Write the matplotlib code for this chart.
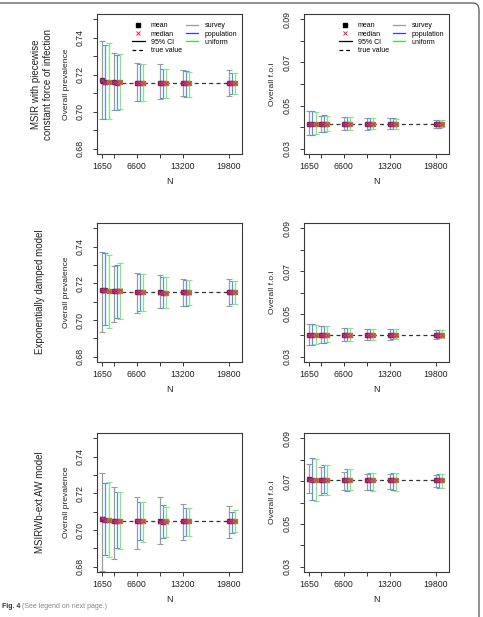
import matplotlib
matplotlib.use('Agg')
import matplotlib.pyplot as plt
from matplotlib.lines import Line2D
from matplotlib.patches import FancyBboxPatch
import numpy as np

plt.rcParams['font.family'] = ['Liberation Sans', 'DejaVu Sans']

# ---------------- data ----------------
N = [1650, 3300, 6600, 9900, 13200, 19800]
N_labels = ['1650', '', '6600', '', '13200', '19800']
series = ['survey', 'population', 'uniform']
row_titles = ['MSIR with piecewise\nconstant force of infection',
              'Exponentially damped model',
              'MSIRWb-ext AW model']
ylabels = ['Overall prevalence', 'Overall f.o.i']

# row 1: MSIR piecewise constant foi -- prevalence
msir_prev_true = 0.7156
msir_prev_lo = [[0.6961, 0.7011, 0.7056, 0.7067, 0.7083, 0.7083],
                [0.6963, 0.7011, 0.7056, 0.7072, 0.7078, 0.7094],
                [0.6961, 0.7017, 0.7056, 0.7072, 0.7078, 0.7094]]
msir_prev_hi = [[0.7383, 0.7317, 0.7261, 0.7256, 0.7228, 0.7228],
                [0.7361, 0.7306, 0.7256, 0.7233, 0.7222, 0.7211],
                [0.7372, 0.7310, 0.7256, 0.7233, 0.7217, 0.7211]]
msir_prev_mean = [[0.7174, 0.7162, 0.7158, 0.7157, 0.7157, 0.7157],
                  [0.7160, 0.7158, 0.7156, 0.7155, 0.7156, 0.7156],
                  [0.7163, 0.7160, 0.7157, 0.7156, 0.7156, 0.7156]]
msir_prev_median = [[0.7170, 0.7160, 0.7157, 0.7156, 0.7156, 0.7156],
                    [0.7158, 0.7157, 0.7155, 0.7155, 0.7155, 0.7156],
                    [0.7161, 0.7159, 0.7156, 0.7155, 0.7156, 0.7156]]
# row 1: foi
msir_foi_true = 0.0416
msir_foi_lo = [[0.0365, 0.0379, 0.0386, 0.0388, 0.0390, 0.0398],
               [0.0365, 0.0380, 0.0387, 0.0390, 0.0391, 0.0398],
               [0.0367, 0.0381, 0.0388, 0.0391, 0.0392, 0.0399]]
msir_foi_hi = [[0.0477, 0.0453, 0.0449, 0.0444, 0.0444, 0.0435],
               [0.0475, 0.0455, 0.0447, 0.0442, 0.0441, 0.0434],
               [0.0470, 0.0452, 0.0446, 0.0441, 0.0440, 0.0433]]
msir_foi_mean = [[0.0417, 0.0417, 0.0416, 0.0416, 0.0416, 0.0416],
                 [0.0416, 0.0416, 0.0416, 0.0416, 0.0416, 0.0416],
                 [0.0416, 0.0416, 0.0416, 0.0416, 0.0416, 0.0416]]
msir_foi_median = [[0.0416, 0.0416, 0.0416, 0.0416, 0.0416, 0.0416],
                   [0.0416, 0.0416, 0.0416, 0.0416, 0.0416, 0.0416],
                   [0.0416, 0.0416, 0.0416, 0.0416, 0.0416, 0.0416]]

# row 2: exponentially damped model
exp_prev_true = 0.7151
exp_prev_lo = [[0.6937, 0.6992, 0.7041, 0.7063, 0.7079, 0.7079],
               [0.6975, 0.7014, 0.7052, 0.7068, 0.7079, 0.7090],
               [0.6959, 0.7008, 0.7052, 0.7068, 0.7081, 0.7090]]
exp_prev_hi = [[0.7370, 0.7293, 0.7255, 0.7244, 0.7222, 0.7222],
               [0.7364, 0.7299, 0.7249, 0.7233, 0.7220, 0.7211],
               [0.7353, 0.7310, 0.7249, 0.7233, 0.7220, 0.7211]]
exp_prev_mean = [[0.7165, 0.7160, 0.7152, 0.7151, 0.7151, 0.7152],
                 [0.7161, 0.7158, 0.7152, 0.7150, 0.7151, 0.7151],
                 [0.7160, 0.7160, 0.7152, 0.7150, 0.7151, 0.7151]]
exp_prev_median = [[0.7162, 0.7158, 0.7151, 0.7150, 0.7151, 0.7151],
                   [0.7160, 0.7157, 0.7151, 0.7150, 0.7150, 0.7151],
                   [0.7159, 0.7161, 0.7151, 0.7150, 0.7150, 0.7151]]
exp_foi_true = 0.0400
exp_foi_lo = [[0.0355, 0.0365, 0.0375, 0.0377, 0.0380, 0.0385],
              [0.0357, 0.0366, 0.0376, 0.0378, 0.0381, 0.0386],
              [0.0358, 0.0367, 0.0376, 0.0379, 0.0381, 0.0386]]
exp_foi_hi = [[0.0455, 0.0445, 0.0435, 0.0432, 0.0430, 0.0425],
              [0.0452, 0.0443, 0.0433, 0.0431, 0.0429, 0.0424],
              [0.0450, 0.0442, 0.0433, 0.0430, 0.0428, 0.0424]]
exp_foi_mean = [[0.0401, 0.0400, 0.0400, 0.0400, 0.0400, 0.0400],
                [0.0400, 0.0400, 0.0400, 0.0400, 0.0400, 0.0400],
                [0.0400, 0.0400, 0.0400, 0.0400, 0.0400, 0.0400]]
exp_foi_median = [[0.0400, 0.0400, 0.0400, 0.0400, 0.0400, 0.0400],
                  [0.0400, 0.0400, 0.0400, 0.0400, 0.0400, 0.0400],
                  [0.0400, 0.0400, 0.0400, 0.0400, 0.0400, 0.0400]]

# row 3: MSIRWb-ext AW model
aw_prev_true = 0.7047
aw_prev_lo = [[0.6778, 0.6844, 0.6899, 0.6926, 0.6948, 0.6959],
              [0.6866, 0.6904, 0.6948, 0.6959, 0.6970, 0.6986],
              [0.6855, 0.6899, 0.6937, 0.6964, 0.6970, 0.6992]]
aw_prev_hi = [[0.7310, 0.7233, 0.7178, 0.7178, 0.7140, 0.7129],
              [0.7255, 0.7205, 0.7151, 0.7134, 0.7118, 0.7101],
              [0.7260, 0.7205, 0.7151, 0.7123, 0.7118, 0.7107]]
aw_prev_mean = [[0.7060, 0.7050, 0.7048, 0.7047, 0.7048, 0.7048],
                [0.7055, 0.7049, 0.7048, 0.7046, 0.7047, 0.7047],
                [0.7054, 0.7050, 0.7049, 0.7047, 0.7047, 0.7047]]
aw_prev_median = [[0.7065, 0.7049, 0.7047, 0.7046, 0.7047, 0.7047],
                  [0.7053, 0.7048, 0.7047, 0.7046, 0.7047, 0.7047],
                  [0.7052, 0.7049, 0.7048, 0.7046, 0.7047, 0.7047]]
aw_foi_true = 0.0705
aw_foi_lo = [[0.0644, 0.0634, 0.0658, 0.0658, 0.0662, 0.0672],
             [0.0611, 0.0644, 0.0653, 0.0658, 0.0658, 0.0667],
             [0.0606, 0.0634, 0.0658, 0.0653, 0.0653, 0.0667]]
aw_foi_hi = [[0.0780, 0.0766, 0.0742, 0.0733, 0.0733, 0.0728],
             [0.0808, 0.0775, 0.0756, 0.0738, 0.0738, 0.0733],
             [0.0803, 0.0775, 0.0756, 0.0738, 0.0738, 0.0733]]
aw_foi_mean = [[0.0708, 0.0707, 0.0706, 0.0706, 0.0706, 0.0706],
               [0.0707, 0.0706, 0.0707, 0.0706, 0.0706, 0.0706],
               [0.0707, 0.0707, 0.0707, 0.0706, 0.0706, 0.0706]]
aw_foi_median = [[0.0707, 0.0706, 0.0705, 0.0706, 0.0706, 0.0706],
                 [0.0706, 0.0706, 0.0706, 0.0705, 0.0706, 0.0706],
                 [0.0706, 0.0706, 0.0706, 0.0706, 0.0706, 0.0706]]

prev_ticks = [0.68, 0.69, 0.70, 0.71, 0.72, 0.73, 0.74, 0.75]
prev_ticklabels = ['0.68', '', '0.70', '', '0.72', '', '0.74', '']
foi_ticks = [0.03, 0.04, 0.05, 0.06, 0.07, 0.08, 0.09]
foi_ticklabels = ['0.03', '', '0.05', '', '0.07', '', '0.09']

# ---------------- style ----------------
series_colors = ['#9b9b9b', '#5a93de', '#86e486']
mean_colors = ['#6a1f5e', '#7a2a78', '#9c8a3a']
series_offset = [0, 480, 960]
W, H = 483, 617
fig = plt.figure(figsize=(W / 100, H / 100), dpi=100)
fig.patch.set_facecolor('white')

def px_axes(x0, y0, x1, y1):
    return fig.add_axes([x0 / W, 1 - y1 / H, (x1 - x0) / W, (y1 - y0) / H])

rows_px = [(14, 154), (223, 362), (433, 572)]
cols_px = [(97, 242), (304, 449)]

panels = [
    [(msir_prev_lo, msir_prev_hi, msir_prev_mean, msir_prev_median, msir_prev_true),
     (msir_foi_lo, msir_foi_hi, msir_foi_mean, msir_foi_median, msir_foi_true)],
    [(exp_prev_lo, exp_prev_hi, exp_prev_mean, exp_prev_median, exp_prev_true),
     (exp_foi_lo, exp_foi_hi, exp_foi_mean, exp_foi_median, exp_foi_true)],
    [(aw_prev_lo, aw_prev_hi, aw_prev_mean, aw_prev_median, aw_prev_true),
     (aw_foi_lo, aw_foi_hi, aw_foi_mean, aw_foi_median, aw_foi_true)],
]

edge = '#3a3a3a'
for r, (ry0, ry1) in enumerate(rows_px):
    for c, (cx0, cx1) in enumerate(cols_px):
        ax = px_axes(cx0, ry0, cx1, ry1)
        lo_all, hi_all, mean_all, med_all, tv = panels[r][c]
        for s in range(3):
            xs = np.array(N, dtype=float) + series_offset[s]
            lo = np.array(lo_all[s]); hi = np.array(hi_all[s])
            ax.errorbar(xs, (lo + hi) / 2, yerr=(hi - lo) / 2, fmt='none',
                        ecolor=series_colors[s], elinewidth=0.9,
                        capsize=2.2, capthick=0.8, zorder=2)
        ax.axhline(tv, xmin=0.02, xmax=0.965, color='#333333', lw=0.9,
                   dashes=(3.2, 2.6), zorder=3)
        for s in range(3):
            xs = np.array(N, dtype=float) + series_offset[s]
            ax.plot(xs, mean_all[s], ls='none', marker='s', ms=2.6,
                    mfc=mean_colors[s], mec=mean_colors[s], zorder=4)
            ax.plot(xs, med_all[s], ls='none', marker='x', ms=2.2,
                    mew=0.6, color='#e0305a', zorder=5)
        ax.set_xlim(930, 21700)
        if c == 0:
            ax.set_ylim(0.6772, 0.7528)
            ax.set_yticks(prev_ticks)
            ax.set_yticklabels(prev_ticklabels)
        else:
            ax.set_ylim(0.0276, 0.0924)
            ax.set_yticks(foi_ticks)
            ax.set_yticklabels(foi_ticklabels)
        ax.set_xticks(N)
        ax.set_xticklabels(N_labels)
        ax.tick_params(axis='both', direction='out', length=3.2, width=0.7,
                       colors=edge, labelsize=6.3, labelcolor='#222222')
        ax.tick_params(axis='x', pad=2.5)
        ax.tick_params(axis='y', pad=5.5)
        for lab in ax.get_yticklabels():
            lab.set_rotation(90)
            lab.set_va('center')
        for sp in ax.spines.values():
            sp.set_color(edge)
            sp.set_linewidth(0.8)
        ax.text(0.5, -0.2, 'N', transform=ax.transAxes, ha='center',
                va='center', fontsize=6.5, color='#222222')
        ylab_x = (67 - cx0) / (cx1 - cx0) if c == 0 else (273 - cx0) / (cx1 - cx0)
        ax.text(ylab_x, 0.5, ylabels[c], transform=ax.transAxes, rotation=90,
                ha='center', va='center', fontsize=6.1, color='#222222')
        if r == 0:
            handles = [
                Line2D([], [], ls='none', marker='s', ms=2.4, color='black'),
                Line2D([], [], ls='none', marker='x', ms=2.6, mew=0.7, color='#e8203a'),
                Line2D([], [], color='black', lw=0.9),
                Line2D([], [], color='black', lw=0.9, dashes=(3.0, 2.4)),
                Line2D([], [], color='#999999', lw=0.9),
                Line2D([], [], color='#3a3aff', lw=0.9),
                Line2D([], [], color='#3ce03c', lw=0.9),
            ]
            labels = ['mean', 'median', '95% CI', 'true value',
                      'survey', 'population', 'uniform']
            ax.legend(handles, labels, ncol=2, frameon=False, fontsize=5.0,
                      loc='upper right', bbox_to_anchor=(1.0, 0.975),
                      handlelength=1.75, handletextpad=0.9, columnspacing=0.6,
                      labelspacing=0.18, borderaxespad=0.3, borderpad=0.4)

# row titles
title_y = [84, 292, 502]
title_x = [42, 40, 40]
for t, yy, xx in zip(row_titles, title_y, title_x):
    fig.text(xx / W, 1 - yy / H, t, rotation=90, ha='center', va='center',
             fontsize=7, color='#222222', linespacing=1.25)

# page frame
frame = FancyBboxPatch((-20 / W, -20 / H), (479 + 20) / W, (617 - 3 + 20) / H,
                       boxstyle='round,pad=0,rounding_size=0.012',
                       transform=fig.transFigure, fill=False,
                       edgecolor='#555555', lw=0.9)
fig.patches.append(frame)

# caption
fig.text(2 / W, 1 - 607 / H, 'Fig. 4', fontsize=5, fontweight='bold',
         color='#333333', va='center', ha='left')
fig.text(22 / W, 1 - 607 / H, '(See legend on next page.)', fontsize=5,
         color='#888888', va='center', ha='left')

fig.savefig('out.png', dpi=100, facecolor='white')
